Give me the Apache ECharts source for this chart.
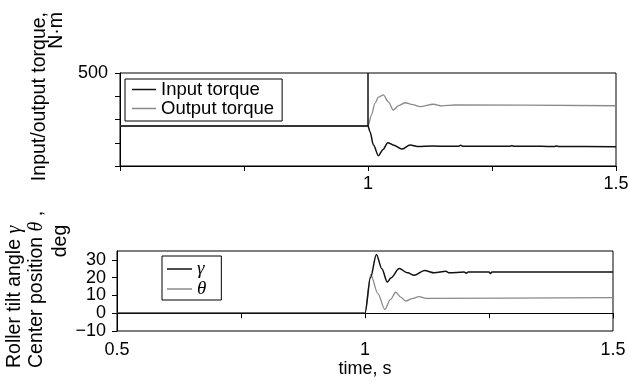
<!DOCTYPE html>
<html>
<head>
<meta charset="utf-8">
<script src="https://cdn.jsdelivr.net/npm/echarts@6/dist/echarts.min.js"></script>
<style>
  html, body { margin: 0; padding: 0; background: #fff; }
  #chart { width: 629px; height: 387px; }
</style>
</head>
<body>
<div id="chart"></div>
<script>
// top panel: torque, N·m
var inputTime = [0.5, 1.0, 1.0, 1.0, 1.004, 1.011, 1.021, 1.03, 1.04, 1.052, 1.068, 1.085, 1.1, 1.13, 1.16, 1.182, 1.187, 1.192, 1.25, 1.285, 1.29, 1.295, 1.35, 1.375, 1.38, 1.385, 1.5];
var inputTorque = [215, 215, 500, 215, 184, 113, 55, 88, 125, 112, 91, 113, 105, 107, 106, 106, 111, 106, 106, 106, 109, 106, 106, 105, 108, 105, 104];
var outputTime = [0.5, 1.0, 1.007, 1.014, 1.021, 1.031, 1.041, 1.051, 1.062, 1.075, 1.09, 1.105, 1.132, 1.149, 1.175, 1.5];
var outputTorque = [215, 215, 274, 337, 370, 382, 345, 301, 325, 340, 330, 319, 332, 323, 328, 324];

// bottom panel: angles, deg
var gammaTime = [0.5, 1.0, 1.011, 1.023, 1.034, 1.045, 1.052, 1.069, 1.086, 1.099, 1.12, 1.14, 1.163, 1.17, 1.2, 1.204, 1.208, 1.25, 1.253, 1.256, 1.5];
var gammaDeg = [0, 0, 20, 33.1, 25, 17.5, 19.8, 25.1, 22.7, 21.3, 24, 22.7, 23.6, 22.7, 23.2, 22.5, 23.2, 23.2, 22.4, 23.2, 23.2];
var thetaTime = [0.5, 1.0, 1.0115, 1.026, 1.04, 1.051, 1.062, 1.072, 1.082, 1.095, 1.109, 1.125, 1.5];
var thetaDeg = [0, 0, 21.7, 11, 2.1, 7.6, 11.8, 9, 6.9, 8.2, 9.3, 8.3, 8.8];

// tick labels (bottom y labels split over two axes so none get dropped as overlapping)
var topXLabels = ['1', '1.5'];
var bottomXLabels = ['0.5', '1', '1.5'];
var topYLabels = ['500'];
var bottomYLabelsOdd = ['30', '10', '\u221210'];
var bottomYLabelsEven = ['20', '0'];

var font = 'Liberation Sans, Arial, sans-serif';
var black = '#111';
var gray = '#8a8a8a';

function pairs(xs, ys) {
  return xs.map(function (t, i) { return [t, ys[i]]; });
}
function showOnly(list) {
  return function (v) {
    var s = v < 0 ? '\u2212' + Math.abs(v) : String(v);
    return list.indexOf(s) >= 0 ? s : '';
  };
}

var axisCommon = {
  axisLine: { lineStyle: { color: '#000', width: 1 } },
  axisTick: { length: 5, lineStyle: { color: '#000' } },
  splitLine: { show: false },
  axisLabel: { color: '#000', fontSize: 18, fontFamily: font, hideOverlap: false }
};

var myChart = echarts.init(document.getElementById('chart'));
myChart.setOption({
  animation: false,
  backgroundColor: '#fff',
  grid: [
    { left: 120, top: 73, width: 496, height: 93, show: true, borderColor: '#000', borderWidth: 1, outerBoundsMode: 'none', containLabel: false },
    { left: 117, top: 251, width: 496, height: 80, show: true, borderColor: '#000', borderWidth: 1, outerBoundsMode: 'none', containLabel: false }
  ],
  xAxis: [
    Object.assign({}, axisCommon, {
      type: 'value', gridIndex: 0, min: 0.5, max: 1.5, interval: 0.25,
      axisLabel: Object.assign({}, axisCommon.axisLabel, { margin: 9, formatter: showOnly(topXLabels) })
    }),
    Object.assign({}, axisCommon, {
      type: 'value', gridIndex: 1, min: 0.5, max: 1.5, interval: 0.25,
      name: 'time, s', nameLocation: 'middle', nameGap: 27,
      nameTextStyle: { color: '#000', fontSize: 18, fontFamily: font },
      axisLabel: Object.assign({}, axisCommon.axisLabel, { margin: 10, showMinLabel: true, formatter: showOnly(bottomXLabels) })
    })
  ],
  yAxis: [
    Object.assign({}, axisCommon, {
      type: 'value', gridIndex: 0, min: 0, max: 500, interval: 125,
      axisLabel: Object.assign({}, axisCommon.axisLabel, { margin: 12, formatter: showOnly(topYLabels) })
    }),
    Object.assign({}, axisCommon, {
      type: 'value', gridIndex: 1, position: 'left', min: -10, max: 35, interval: 10,
      axisLabel: Object.assign({}, axisCommon.axisLabel, { margin: 11, showMinLabel: true, showMaxLabel: false, formatter: showOnly(bottomYLabelsOdd) })
    }),
    Object.assign({}, axisCommon, {
      type: 'value', gridIndex: 1, position: 'left', offset: 0, min: -10, max: 35, interval: 10,
      axisLine: { show: false }, axisTick: { show: false },
      axisLabel: Object.assign({}, axisCommon.axisLabel, { margin: 11, showMinLabel: false, showMaxLabel: false, formatter: showOnly(bottomYLabelsEven) })
    })
  ],
  legend: [
    {
      data: ['Input torque', 'Output torque'],
      orient: 'vertical', left: 125, top: 79, itemGap: 0,
      icon: 'rect', itemWidth: 24, itemHeight: 1.5,
      padding: [1, 8, 3, 7],
      borderColor: '#000', borderWidth: 1, backgroundColor: '#fff',
      textStyle: { color: '#000', fontSize: 18.5, fontFamily: font, lineHeight: 18 }
    },
    {
      data: ['\u03b3', '\u03b8'],
      orient: 'vertical', left: 162, top: 256, itemGap: 0,
      icon: 'rect', itemWidth: 25, itemHeight: 1.5,
      padding: [3, 15, 1, 5],
      borderColor: '#000', borderWidth: 1, backgroundColor: '#fff',
      textStyle: { color: '#000', fontSize: 19, fontFamily: 'Liberation Serif, DejaVu Serif, serif', fontStyle: 'italic', lineHeight: 20 }
    }
  ],
  graphic: [
    { type: 'text', x: 40, y: 12, rotation: Math.PI / 2,
      style: { text: 'Input/output torque,', font: '19.5px ' + font, fill: '#000', textAlign: 'right', textVerticalAlign: 'middle' } },
    { type: 'text', x: 57, y: 12, rotation: Math.PI / 2,
      style: { text: 'N\u00b7m', font: '19.5px ' + font, fill: '#000', textAlign: 'right', textVerticalAlign: 'middle' } },
    { type: 'text', x: 15, y: 368, rotation: Math.PI / 2,
      style: { text: 'Roller tilt angle {i|\u03b3}', font: '19.5px ' + font, fill: '#000', textAlign: 'left', textVerticalAlign: 'middle',
        rich: { i: { fontStyle: 'italic', fontFamily: 'Liberation Serif, serif', fontSize: 20 } } } },
    { type: 'text', x: 37, y: 368, rotation: Math.PI / 2,
      style: { text: 'Center position {i|\u03b8} ,', font: '19.5px ' + font, fill: '#000', textAlign: 'left', textVerticalAlign: 'middle',
        rich: { i: { fontStyle: 'italic', fontFamily: 'Liberation Serif, serif', fontSize: 20 } } } },
    { type: 'text', x: 61, y: 241, rotation: Math.PI / 2,
      style: { text: 'deg', font: '19.5px ' + font, fill: '#000', textAlign: 'center', textVerticalAlign: 'middle' } }
  ],
  series: [
    { name: 'Output torque', type: 'line', xAxisIndex: 0, yAxisIndex: 0, showSymbol: false, symbol: 'none',
      smooth: 0.3, smoothMonotone: 'x', lineStyle: { color: gray, width: 1.3 }, itemStyle: { color: gray },
      data: pairs(outputTime, outputTorque) },
    { name: 'Input torque', type: 'line', xAxisIndex: 0, yAxisIndex: 0, showSymbol: false, symbol: 'none',
      smooth: 0.3, smoothMonotone: 'x', lineStyle: { color: black, width: 1.5 }, itemStyle: { color: black },
      data: pairs(inputTime, inputTorque) },
    { name: '\u03b8', type: 'line', xAxisIndex: 1, yAxisIndex: 1, showSymbol: false, symbol: 'none',
      smooth: 0.3, smoothMonotone: 'x', lineStyle: { color: gray, width: 1.3 }, itemStyle: { color: gray },
      data: pairs(thetaTime, thetaDeg) },
    { name: '\u03b3', type: 'line', xAxisIndex: 1, yAxisIndex: 1, showSymbol: false, symbol: 'none',
      smooth: 0.3, smoothMonotone: 'x', lineStyle: { color: black, width: 1.5 }, itemStyle: { color: black },
      data: pairs(gammaTime, gammaDeg) }
  ]
});
window.addEventListener('resize', function () {
  myChart.resize();
});
</script>
</body>
</html>
